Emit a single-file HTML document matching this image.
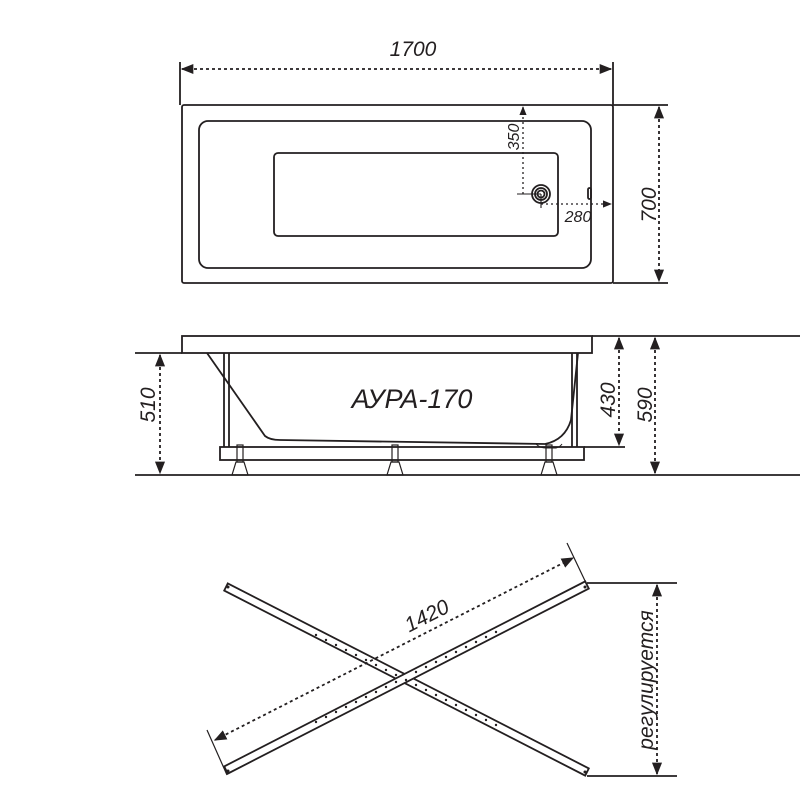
<!DOCTYPE html>
<html><head><meta charset="utf-8"><style>html,body{margin:0;padding:0;background:#fff}svg{display:block}text{font-family:"Liberation Sans",sans-serif;font-style:italic;fill:#231f20}</style></head><body>
<svg width="800" height="800" viewBox="0 0 800 800" xmlns="http://www.w3.org/2000/svg">
<defs>
<marker id="a" viewBox="0 0 10 10" refX="9" refY="5" markerWidth="7" markerHeight="7" orient="auto-start-reverse"><path d="M0,1 L10,5 L0,9 Z" fill="#231f20"/></marker>
</defs>
<g stroke="#231f20" fill="none" stroke-width="1.8">
<!-- top view -->
<rect x="182" y="105" width="431" height="178" rx="2"/>
<rect x="199" y="121" width="392" height="147" rx="9"/>
<rect x="274" y="153" width="284" height="83" rx="4"/>
<circle cx="541" cy="194" r="9"/><circle cx="541" cy="194" r="6"/><circle cx="541" cy="194" r="3.5"/>
<rect x="588" y="188" width="3" height="11" rx="1.5"/>
<line x1="180" y1="62" x2="180" y2="105"/><line x1="613" y1="62" x2="613" y2="105"/>
<line x1="182" y1="69" x2="611" y2="69" stroke-dasharray="3,3" marker-start="url(#a)" marker-end="url(#a)"/>
<line x1="613" y1="105" x2="668" y2="105"/><line x1="613" y1="283" x2="668" y2="283"/>
<line x1="659" y1="107" x2="659" y2="281" stroke-dasharray="3,3" marker-start="url(#a)" marker-end="url(#a)"/>
<line x1="523" y1="107" x2="523" y2="194" stroke-dasharray="2,3" stroke-width="1.3" marker-start="url(#a)"/>
<line x1="517" y1="194" x2="541" y2="194" stroke-width="1.1"/>
<line x1="541" y1="194" x2="541" y2="208" stroke-width="1.1"/>
<line x1="541" y1="204" x2="611" y2="204" stroke-dasharray="2,3" stroke-width="1.3" marker-end="url(#a)"/>
<!-- side view -->
<line x1="592" y1="336" x2="800" y2="336"/>
<line x1="135" y1="353" x2="182" y2="353"/>
<line x1="135" y1="475" x2="800" y2="475"/>
<rect x="182" y="336" width="410" height="17"/>
<path d="M207,353 L265,436 Q270,440 280,440 L545,444 Q565,440 571,420 L578,353"/>
<line x1="224" y1="353" x2="224" y2="447"/><line x1="229" y1="353" x2="229" y2="447"/>
<line x1="572" y1="353" x2="572" y2="447"/><line x1="577" y1="353" x2="577" y2="447"/>
<rect x="220" y="447" width="364" height="13"/>
<path d="M536,444 Q540,448 546,448 L556,448 Q560,447 562,444" stroke-width="1"/>
<g stroke-width="1.2">
<rect x="237" y="445" width="6" height="17"/><path d="M236,462 L244,462 L248,475 L232,475 Z"/>
<rect x="392" y="445" width="6" height="17"/><path d="M391,462 L399,462 L403,475 L387,475 Z"/>
<rect x="546" y="445" width="6" height="17"/><path d="M545,462 L553,462 L557,475 L541,475 Z"/>
</g>
<line x1="160" y1="355" x2="160" y2="473" stroke-dasharray="3,3" marker-start="url(#a)" marker-end="url(#a)"/>
<line x1="584" y1="447" x2="625" y2="447"/>
<line x1="619" y1="338" x2="619" y2="445" stroke-dasharray="3,3" marker-start="url(#a)" marker-end="url(#a)"/>
<line x1="655" y1="338" x2="655" y2="473" stroke-dasharray="3,3" marker-start="url(#a)" marker-end="url(#a)"/>
<!-- bottom view -->
<polygon points="227.8,583.4 588.8,768.4 585.2,775.6 224.2,590.6" fill="#fff"/>
<polygon points="224.2,766.4 585.2,581.4 588.8,588.6 227.8,773.6" fill="#fff"/>
<line x1="587" y1="583" x2="677" y2="583"/><line x1="587" y1="776" x2="677" y2="776"/>
<line x1="657" y1="585" x2="657" y2="774" stroke-dasharray="3,3" marker-start="url(#a)" marker-end="url(#a)"/>
<line x1="207" y1="730" x2="227" y2="775" stroke-width="1.2"/>
<line x1="567" y1="543" x2="587" y2="585" stroke-width="1.2"/>
<line x1="215" y1="740" x2="573" y2="558" stroke-dasharray="3,3" marker-start="url(#a)" marker-end="url(#a)"/>
</g>
<g fill="#231f20">
<circle cx="228" cy="587" r="1.5"/><circle cx="585" cy="772" r="1.5"/><circle cx="228" cy="771" r="1.5"/><circle cx="585" cy="587" r="1.5"/>
<circle cx="316" cy="635" r="1.2"/><circle cx="326" cy="640" r="1.2"/><circle cx="336" cy="645" r="1.2"/><circle cx="346" cy="650" r="1.2"/><circle cx="356" cy="655" r="1.2"/><circle cx="366" cy="660" r="1.2"/><circle cx="376" cy="665" r="1.2"/><circle cx="386" cy="670" r="1.2"/><circle cx="396" cy="675" r="1.2"/><circle cx="406" cy="680" r="1.2"/><circle cx="416" cy="685" r="1.2"/><circle cx="426" cy="690" r="1.2"/><circle cx="436" cy="695" r="1.2"/><circle cx="446" cy="700" r="1.2"/><circle cx="456" cy="705" r="1.2"/><circle cx="466" cy="710" r="1.2"/><circle cx="476" cy="715" r="1.2"/><circle cx="486" cy="720" r="1.2"/><circle cx="496" cy="725" r="1.2"/>
<circle cx="316" cy="722" r="1.2"/><circle cx="326" cy="717" r="1.2"/><circle cx="336" cy="712" r="1.2"/><circle cx="346" cy="707" r="1.2"/><circle cx="356" cy="702" r="1.2"/><circle cx="366" cy="697" r="1.2"/><circle cx="376" cy="692" r="1.2"/><circle cx="386" cy="687" r="1.2"/><circle cx="396" cy="682" r="1.2"/><circle cx="416" cy="672" r="1.2"/><circle cx="426" cy="667" r="1.2"/><circle cx="436" cy="662" r="1.2"/><circle cx="446" cy="657" r="1.2"/><circle cx="456" cy="652" r="1.2"/><circle cx="466" cy="647" r="1.2"/><circle cx="476" cy="642" r="1.2"/><circle cx="486" cy="637" r="1.2"/><circle cx="496" cy="632" r="1.2"/>
</g>
<text x="413" y="56" font-size="21" text-anchor="middle">1700</text>
<text transform="translate(656,205) rotate(-90)" font-size="21" text-anchor="middle">700</text>
<text transform="translate(519,137) rotate(-90)" font-size="16" text-anchor="middle">350</text>
<text x="578" y="222" font-size="16" text-anchor="middle">280</text>
<text x="412" y="408" font-size="27" text-anchor="middle">АУРА-170</text>
<text transform="translate(155,405) rotate(-90)" font-size="21" text-anchor="middle">510</text>
<text transform="translate(615,400) rotate(-90)" font-size="21" text-anchor="middle">430</text>
<text transform="translate(652,405) rotate(-90)" font-size="21" text-anchor="middle">590</text>
<text transform="translate(430,622) rotate(-27)" font-size="21" text-anchor="middle">1420</text>
<text transform="translate(653,680) rotate(-90)" font-size="21" text-anchor="middle">регулируется</text>
</svg>
</body></html>
